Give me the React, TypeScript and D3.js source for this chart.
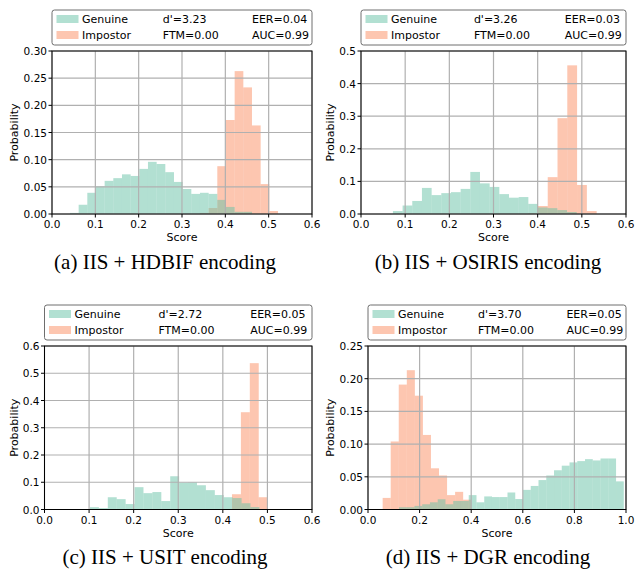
import React, { useEffect, useRef } from 'react';
import * as d3 from 'd3';

const GENUINE = '#66c2a5';
const IMPOSTOR = '#fc8d62';

// captions and legend stats, one per panel
const captions = ['(a) IIS + HDBIF encoding', '(b) IIS + OSIRIS encoding', '(c) IIS + USIT encoding', '(d) IIS + DGR encoding'];
const dPrime = ['3.23', '3.26', '2.72', '3.70'];
const eer = ['0.04', '0.03', '0.05', '0.05'];
const ftm = ['0.00', '0.00', '0.00', '0.00'];
const auc = ['0.99', '0.99', '0.99', '0.99'];

// histogram bins: first edge, bin width, probabilities
const hdbifGenuineBins = [0.0415, 0.02];
const hdbifGenuine = [0.002, 0.017, 0.039, 0.051, 0.061, 0.066, 0.073, 0.070, 0.083, 0.096, 0.092, 0.077, 0.059, 0.046, 0.037, 0.039, 0.037, 0.026, 0.013, 0.004, 0.004];
const hdbifImpostorBins = [0.3415, 0.02];
const hdbifImpostor = [0.002, 0.011, 0.088, 0.173, 0.263, 0.233, 0.163, 0.055, 0.0055];

const osirisGenuineBins = [0.0723, 0.0219];
const osirisGenuine = [0.009, 0.026, 0.040, 0.080, 0.058, 0.064, 0.067, 0.077, 0.129, 0.094, 0.083, 0.061, 0.050, 0.052, 0.031, 0.020, 0.018, 0.012, 0.006];
const osirisImpostorBins = [0.3785, 0.02215];
const osirisImpostor = [0.002, 0.0245, 0.113, 0.294, 0.456, 0.089, 0.009];

const usitGenuineBins = [0.102, 0.02];
const usitGenuine = [0.0086, 0.005, 0.045, 0.038, 0.020, 0.082, 0.060, 0.064, 0.031, 0.122, 0.099, 0.100, 0.089, 0.071, 0.053, 0.045, 0.042, 0.023, 0.009];
const usitImpostorBins = [0.4205, 0.02];
const usitImpostor = [0.056, 0.357, 0.537, 0.045];

const dgrGenuineBins = [0.120, 0.03005];
const dgrGenuine = [0.0035, 0.0035, 0.0055, 0.008, 0.011, 0.0157, 0.008, 0.013, 0.013, 0.022, 0.011, 0.020, 0.019, 0.019, 0.026, 0.016, 0.030, 0.036, 0.045, 0.052, 0.060, 0.067, 0.072, 0.074, 0.077, 0.075, 0.078, 0.078, 0.043];
const dgrImpostorBins = [0.0568, 0.0312];
const dgrImpostor = [0.0177, 0.104, 0.191, 0.213, 0.174, 0.114, 0.063, 0.052, 0.022, 0.027, 0.015];

const xTicksShort = [0, 0.1, 0.2, 0.3, 0.4, 0.5, 0.6];
const xTicksLong = [0, 0.2, 0.4, 0.6, 0.8, 1.0];

const panels = [
  { box: [52, 51, 312, 214], xMax: 0.6, xTicks: xTicksShort, yMax: 0.3, yStep: 0.05, yFmt: '.2f', ylabX: 14, capX: 165, capY: 269,
    gen: [hdbifGenuineBins, hdbifGenuine], imp: [hdbifImpostorBins, hdbifImpostor] },
  { box: [361, 51, 626, 214], xMax: 0.6, xTicks: xTicksShort, yMax: 0.5, yStep: 0.1, yFmt: '.1f', ylabX: 330, capX: 488, capY: 269,
    gen: [osirisGenuineBins, osirisGenuine], imp: [osirisImpostorBins, osirisImpostor] },
  { box: [44.5, 346, 312, 509.5], xMax: 0.6, xTicks: xTicksShort, yMax: 0.6, yStep: 0.1, yFmt: '.1f', ylabX: 14, capX: 165, capY: 564,
    gen: [usitGenuineBins, usitGenuine], imp: [usitImpostorBins, usitImpostor] },
  { box: [368, 346, 626, 509.5], xMax: 1.0, xTicks: xTicksLong, yMax: 0.25, yStep: 0.05, yFmt: '.2f', ylabX: 330, capX: 488, capY: 564,
    gen: [dgrGenuineBins, dgrGenuine], imp: [dgrImpostorBins, dgrImpostor] },
];

const SANS = 'DejaVu Sans';

function drawPanel(svg: any, p: any, idx: number) {
  const [L, T, R, B] = p.box;
  const x = d3.scaleLinear().domain([0, p.xMax]).range([L, R]);
  const y = d3.scaleLinear().domain([0, p.yMax]).range([B, T]);
  const g = svg.append('g');

  const yTicks = d3.range(0, p.yMax + 1e-9, p.yStep);

  // bars, impostor underneath, genuine on top
  const drawBars = (bins: any, color: string) => {
    const [start, w] = bins[0];
    g.append('g').selectAll('rect')
      .data(bins[1])
      .enter()
      .append('rect')
      .attr('x', (d: number, i: number) => x(start + i * w))
      .attr('width', (d: number, i: number) => x(start + (i + 1) * w) - x(start + i * w))
      .attr('y', (d: number) => y(d))
      .attr('height', (d: number) => y(0) - y(d))
      .attr('fill', color)
      .attr('fill-opacity', 0.5);
  };
  drawBars(p.imp, IMPOSTOR);
  drawBars(p.gen, GENUINE);

  // grid
  g.append('g').selectAll('line')
    .data(p.xTicks)
    .enter()
    .append('line')
    .attr('x1', (d: number) => x(d)).attr('x2', (d: number) => x(d))
    .attr('y1', T).attr('y2', B)
    .attr('stroke', '#b0b0b0').attr('stroke-width', 1.2);
  g.append('g').selectAll('line')
    .data(yTicks)
    .enter()
    .append('line')
    .attr('x1', L).attr('x2', R)
    .attr('y1', (d: number) => y(d)).attr('y2', (d: number) => y(d))
    .attr('stroke', '#b0b0b0').attr('stroke-width', 1.2);

  // spines
  g.append('rect')
    .attr('x', L).attr('y', T).attr('width', R - L).attr('height', B - T)
    .attr('fill', 'none').attr('stroke', 'black').attr('stroke-width', 1);

  // ticks + labels
  g.append('g').selectAll('line')
    .data(p.xTicks)
    .enter()
    .append('line')
    .attr('x1', (d: number) => x(d)).attr('x2', (d: number) => x(d))
    .attr('y1', B).attr('y2', B + 3.5)
    .attr('stroke', 'black');
  g.append('g').selectAll('text')
    .data(p.xTicks)
    .enter()
    .append('text')
    .attr('x', (d: number) => x(d))
    .attr('y', B + 14)
    .attr('text-anchor', 'middle')
    .attr('font-family', SANS).attr('font-size', 10.5)
    .text((d: number) => d3.format('.1f')(d));

  g.append('g').selectAll('line')
    .data(yTicks)
    .enter()
    .append('line')
    .attr('x1', L - 3.5).attr('x2', L)
    .attr('y1', (d: number) => y(d)).attr('y2', (d: number) => y(d))
    .attr('stroke', 'black');
  g.append('g').selectAll('text')
    .data(yTicks)
    .enter()
    .append('text')
    .attr('x', L - 5)
    .attr('y', (d: number) => y(d) + 4)
    .attr('text-anchor', 'end')
    .attr('font-family', SANS).attr('font-size', 10.5)
    .text((d: number) => d3.format(p.yFmt)(d));

  g.append('text')
    .attr('x', (L + R) / 2).attr('y', B + 27)
    .attr('text-anchor', 'middle')
    .attr('font-family', SANS).attr('font-size', 11)
    .text('Score');
  g.append('text')
    .attr('transform', `translate(${p.ylabX + 4} ${(T + B) / 2}) rotate(-90)`)
    .attr('text-anchor', 'middle')
    .attr('font-family', SANS).attr('font-size', 11)
    .text('Probability');

  // legend
  const w = R - L;
  const lg = g.append('g');
  lg.append('rect')
    .attr('x', L).attr('y', T - 41).attr('width', w).attr('height', 35)
    .attr('rx', 2.5)
    .attr('fill', 'white').attr('stroke', '#6e6e6e').attr('stroke-width', 1);
  const rows = [T - 32, T - 16];
  const col1 = [['Genuine', GENUINE], ['Impostor', IMPOSTOR]];
  col1.forEach(([label, color], r) => {
    lg.append('rect')
      .attr('x', L + 4.5).attr('y', rows[r] - 4).attr('width', 22).attr('height', 8)
      .attr('fill', color).attr('fill-opacity', 0.5);
    lg.append('text')
      .attr('x', L + 30).attr('y', rows[r] + 4)
      .attr('font-family', SANS).attr('font-size', 11)
      .text(label);
  });
  const col2 = ["d'=" + dPrime[idx], 'FTM=' + ftm[idx]];
  const col3 = ['EER=' + eer[idx], 'AUC=' + auc[idx]];
  col2.forEach((t, r) => {
    lg.append('text')
      .attr('x', L + 0.426 * w).attr('y', rows[r] + 4)
      .attr('font-family', SANS).attr('font-size', 11)
      .text(t);
  });
  col3.forEach((t, r) => {
    lg.append('text')
      .attr('x', L + 0.769 * w).attr('y', rows[r] + 4)
      .attr('font-family', SANS).attr('font-size', 11)
      .text(t);
  });

  // caption
  svg.append('text')
    .attr('x', p.capX).attr('y', p.capY)
    .attr('text-anchor', 'middle')
    .attr('font-family', 'Liberation Serif').attr('font-size', 21)
    .text(captions[idx]);
}

export default function App() {
  const ref = useRef<SVGSVGElement>(null);

  useEffect(() => {
    const svg = d3.select(ref.current);
    svg.selectAll('*').remove();
    panels.forEach((p, i) => drawPanel(svg, p, i));
  }, []);

  return (
    <svg ref={ref} width={636} height={570} viewBox="0 0 636 570"
      style={{ position: 'absolute', left: 0, top: 0, background: 'white' }} />
  );
}
